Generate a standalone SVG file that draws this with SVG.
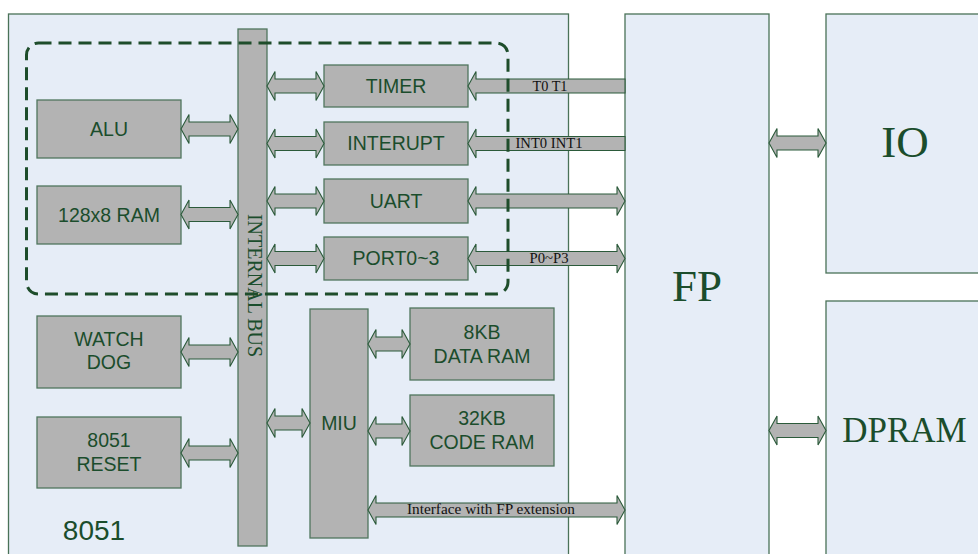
<svg xmlns="http://www.w3.org/2000/svg" width="978" height="554" viewBox="0 0 978 554">
<style>
.outer{fill:#E6EDF7;stroke:#4A7258;stroke-width:1.3}
.blk{fill:#B3B3B3;stroke:#50765E;stroke-width:1.3}
.arr{fill:#B3B3B3;stroke:#2B5A3A;stroke-width:1.1;stroke-linejoin:miter}
.dash{fill:none;stroke:#1E4D2B;stroke-width:3;stroke-dasharray:13 7}
.sans{font-family:"Liberation Sans",Arial,sans-serif;font-size:19.5px;fill:#1B4D2C;text-anchor:middle}
.serif{font-family:"Liberation Serif","Times New Roman",serif;fill:#1B4D2C;text-anchor:middle}
.lbl{font-family:"Liberation Serif","Times New Roman",serif;font-size:14px;fill:#111;text-anchor:middle}
</style>
<rect width="978" height="554" fill="#FFFFFF"/>
<g id="chip8051">
<rect class="outer" x="8.5" y="14" width="560" height="560"/>
<text class="sans" x="94" y="540" style="font-size:28px">8051</text>
</g>
<g id="fp">
<rect class="outer" x="625" y="14" width="144" height="560"/>
<text class="serif" x="697" y="301" style="font-size:45px">FP</text>
</g>
<g id="io">
<rect class="outer" x="826" y="14" width="170" height="259"/>
<text class="serif" x="905" y="157" style="font-size:45px">IO</text>
</g>
<g id="dpram">
<rect class="outer" x="826" y="301" width="170" height="270"/>
<text class="serif" x="904.5" y="442" style="font-size:35px">DPRAM</text>
</g>
<g id="internal-bus">
<rect class="blk" x="238" y="29" width="29" height="517"/>
<text class="serif" transform="translate(247.5,285.5) rotate(90)" x="0" y="0" style="font-size:20px">INTERNAL BUS</text>
</g>
<g id="alu"><rect class="blk" x="37" y="100" width="144" height="58"/><text class="sans" x="109" y="135.5">ALU</text></g>
<g id="ram128"><rect class="blk" x="37" y="186" width="144" height="58"/><text class="sans" x="109" y="221.5">128x8 RAM</text></g>
<g id="watchdog"><rect class="blk" x="37" y="316" width="144" height="72"/><text class="sans" x="109" y="346">WATCH</text><text class="sans" x="109" y="369">DOG</text></g>
<g id="reset"><rect class="blk" x="37" y="417" width="144" height="71"/><text class="sans" x="109" y="447">8051</text><text class="sans" x="109" y="471">RESET</text></g>
<g id="timer"><rect class="blk" x="324" y="65" width="144" height="42"/><text class="sans" x="396" y="92.5">TIMER</text></g>
<g id="interupt"><rect class="blk" x="324" y="122" width="144" height="43"/><text class="sans" x="396" y="150">INTERUPT</text></g>
<g id="uart"><rect class="blk" x="324" y="179" width="144" height="44"/><text class="sans" x="396" y="207.5">UART</text></g>
<g id="port"><rect class="blk" x="324" y="237" width="144" height="43"/><text class="sans" x="396" y="265">PORT0~3</text></g>
<g id="miu"><rect class="blk" x="310" y="309" width="58" height="229"/><text class="sans" x="339" y="430">MIU</text></g>
<g id="dataram"><rect class="blk" x="410" y="308" width="144" height="72"/><text class="sans" x="482" y="339">8KB</text><text class="sans" x="482" y="363">DATA RAM</text></g>
<g id="coderam"><rect class="blk" x="410" y="395" width="144" height="71"/><text class="sans" x="482" y="425">32KB</text><text class="sans" x="482" y="449">CODE RAM</text></g>
<g id="connectors">
<polygon class="arr" points="181,129 189,114.5 189,122 230,122 230,114.5 238,129 230,143.5 230,136 189,136 189,143.5"/>
<polygon class="arr" points="181,214.5 189,200 189,207.5 230,207.5 230,200 238,214.5 230,229 230,221.5 189,221.5 189,229"/>
<polygon class="arr" points="181,352 189,337.5 189,345 230,345 230,337.5 238,352 230,366.5 230,359 189,359 189,366.5"/>
<polygon class="arr" points="181,453 189,438.5 189,446 230,446 230,438.5 238,453 230,467.5 230,460 189,460 189,467.5"/>
<polygon class="arr" points="267,86 275,71.5 275,79 316,79 316,71.5 324,86 316,100.5 316,93 275,93 275,100.5"/>
<polygon class="arr" points="267,143.5 275,129 275,136.5 316,136.5 316,129 324,143.5 316,158 316,150.5 275,150.5 275,158"/>
<polygon class="arr" points="267,201 275,186.5 275,194 316,194 316,186.5 324,201 316,215.5 316,208 275,208 275,215.5"/>
<polygon class="arr" points="267,258.5 275,244 275,251.5 316,251.5 316,244 324,258.5 316,273 316,265.5 275,265.5 275,273"/>
<polygon class="arr" points="267,423 275,408.5 275,416 302,416 302,408.5 310,423 302,437.5 302,430 275,430 275,437.5"/>
<polygon class="arr" points="368,344 376,329.5 376,337 402,337 402,329.5 410,344 402,358.5 402,351 376,351 376,358.5"/>
<polygon class="arr" points="368,431 376,416.5 376,424 402,424 402,416.5 410,431 402,445.5 402,438 376,438 376,445.5"/>
<polygon class="arr" points="368,510 376,495.5 376,503 617,503 617,495.5 625,510 617,524.5 617,517 376,517 376,524.5"/>
<polygon class="arr" points="468,86 476,71.5 476,79 625,79 625,93 476,93 476,100.5"/>
<polygon class="arr" points="468,143.5 476,129 476,136.5 625,136.5 625,150.5 476,150.5 476,158"/>
<polygon class="arr" points="468,201 476,186.5 476,194 617,194 617,186.5 625,201 617,215.5 617,208 476,208 476,215.5"/>
<polygon class="arr" points="468,258.5 476,244 476,251.5 617,251.5 617,244 625,258.5 617,273 617,265.5 476,265.5 476,273"/>
<polygon class="arr" points="769,143 777,128.5 777,136 818,136 818,128.5 826,143 818,157.5 818,150 777,150 777,157.5"/>
<polygon class="arr" points="769,430.5 777,416 777,423.5 818,423.5 818,416 826,430.5 818,445 818,437.5 777,437.5 777,445"/>
<text class="lbl" x="550" y="91" textLength="35" lengthAdjust="spacingAndGlyphs">T0 T1</text>
<text class="lbl" x="549" y="148" textLength="67" lengthAdjust="spacingAndGlyphs">INT0 INT1</text>
<text class="lbl" x="549" y="263" textLength="39" lengthAdjust="spacingAndGlyphs">P0~P3</text>
<text class="lbl" x="491" y="514" textLength="168" lengthAdjust="spacingAndGlyphs">Interface with FP extension</text>
</g>
<rect id="core-group" class="dash" x="26.5" y="43" width="481.5" height="251" rx="12" ry="12"/>
</svg>
